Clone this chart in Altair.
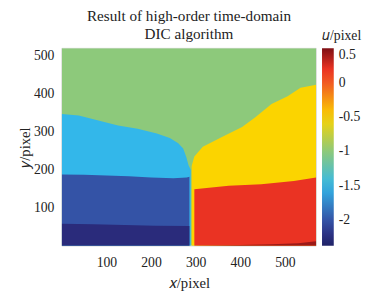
import altair as alt
import pandas as pd

# ---- data (data coordinates in pixels) ----
green_x = [0, 570]
green_top = [520, 520]

lightblue_x = [0, 38, 82, 126, 170, 213, 242, 261, 272, 279, 284, 289]
lightblue_top = [347, 343, 330, 317, 308, 296, 284, 270, 256, 234, 212, 200]

blue_x = [0, 50, 100, 150, 200, 250, 280, 286]
blue_top = [188, 187, 185, 183, 180, 178, 180, 182]

darkblue_x = [0, 70, 140, 210, 286]
darkblue_top = [58, 57, 55, 53, 52]

yellow_x = [291, 297, 316, 360, 404, 433, 470, 506, 535, 570]
yellow_top = [210, 235, 261, 287, 313, 338, 373, 394, 416, 424]

red_x = [297, 374, 447, 520, 570]
red_top = [149, 158, 162, 171, 180]

darkred_x = [300, 400, 470, 530, 570]
darkred_top = [0, 2, 4, 7, 12]

# u value of each region (drawn in this order)
regions = [
    ("green", -1.0, green_x, green_top),
    ("lightblue", -1.5, lightblue_x, lightblue_top),
    ("blue", -2.0, blue_x, blue_top),
    ("darkblue", -2.25, darkblue_x, darkblue_top),
    ("yellow", -0.5, yellow_x, yellow_top),
    ("red", 0.2, red_x, red_top),
    ("darkred", 0.42, darkred_x, darkred_top),
]

cbar_ticks = [0.5, 0, -0.5, -1, -1.5, -2]
x_ticks = [100, 200, 300, 400, 500]
y_ticks = [100, 200, 300, 400, 500]

color_domain = [-2.37, -2.25, -2.0, -1.5, -1.0, -0.5, 0.0, 0.2, 0.5]
color_range = ["#1f2266", "#2a2b7b", "#3453a6", "#33b7ea", "#8dc97b",
               "#fbd400", "#f15a22", "#ea3323", "#7e0f14"]

FONT = "Liberation Serif"

xscale = alt.Scale(domain=[0, 570], nice=False, zero=False)
yscale = alt.Scale(domain=[0, 520], nice=False, zero=False)
cscale = alt.Scale(domain=color_domain, range=color_range, interpolate="rgb")

xaxis = alt.Axis(values=x_ticks, title="𝑥/pixel", grid=False, domain=False, ticks=False,
                 labelFont=FONT, labelFontSize=14, labelColor="#222", labelPadding=10,
                 titleFont=FONT, titleFontSize=15, titleFontWeight="normal",
                 titleColor="#222", titlePadding=7)
yaxis = alt.Axis(values=y_ticks, title="𝑦/pixel", grid=False, domain=False, ticks=False,
                 labelFont=FONT, labelFontSize=14, labelColor="#222", labelPadding=8,
                 titleFont=FONT, titleFontSize=15, titleFontWeight="normal",
                 titleColor="#222", titlePadding=1)
legend = alt.Legend(title="𝑢/pixel", orient="none", direction="vertical",
                    legendX=266, legendY=-19, values=cbar_ticks,
                    labelExpr="'' + datum.value", gradientLength=202,
                    gradientThickness=12, gradientStrokeWidth=0,
                    labelFont=FONT, labelFontSize=14, labelColor="#222",
                    labelOffset=5, labelOverlap=False,
                    titleFont=FONT, titleFontSize=14, titleFontWeight="normal",
                    titleColor="#222", titlePadding=5, titleAnchor="middle",
                    padding=0)

layers = []
for name, val, xs, tops in regions:
    df = pd.DataFrame({"x": xs, "top": tops, "bottom": [0] * len(xs),
                       "u": [val] * len(xs), "region": [name] * len(xs)})
    layers.append(
        alt.Chart(df).mark_area(interpolate="linear", clip=True).encode(
            x=alt.X("x:Q", scale=xscale, axis=xaxis),
            y=alt.Y("top:Q", scale=yscale, axis=yaxis),
            y2="bottom:Q",
            color=alt.Color("u:Q", scale=cscale, legend=legend),
        )
    )

chart = alt.layer(*layers).properties(
    width=260, height=202,
    title=alt.Title(["Result of high-order time-domain", "DIC algorithm"],
                    font=FONT, fontSize=15.5, fontWeight="normal", color="#222",
                    anchor="middle", offset=6, dy=19, lineHeight=18),
    autosize=alt.AutoSizeParams(type="none"),
    padding={"left": 55, "top": 38, "right": 53, "bottom": 44},
).configure_view(stroke="#bbbbbb", strokeWidth=0.6)

chart.save("out.html", embed_options={"renderer": "svg", "actions": False})
